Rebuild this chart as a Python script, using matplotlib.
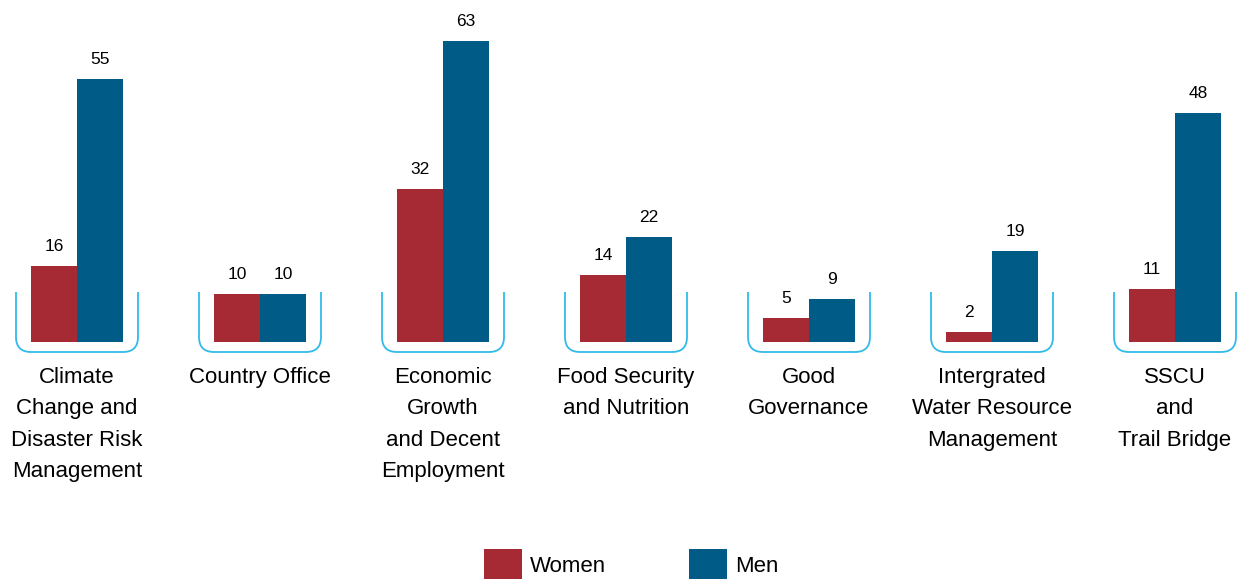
import numpy as np
import matplotlib.pyplot as plt
from matplotlib.path import Path
from matplotlib.patches import PathPatch, Rectangle

plt.rcParams['font.family'] = ['Liberation Sans', 'DejaVu Sans']

categories = ["Climate\nChange and\nDisaster Risk\nManagement",
              "Country Office",
              "Economic\nGrowth\nand Decent\nEmployment",
              "Food Security\nand Nutrition",
              "Good\nGovernance",
              "Intergrated\nWater Resource\nManagement",
              "SSCU\nand\nTrail Bridge"]
women = [16, 10, 32, 14, 5, 2, 11]
men = [55, 10, 63, 22, 9, 19, 48]

c_women = '#a52a33'
c_men = '#005b86'
c_bracket = '#30bbea'

W, H = 1242, 579
fig = plt.figure(figsize=(W / 100, H / 100), dpi=100)
ax = fig.add_axes([0, 0, 1, 1])

px_x = 183.0     # pixels per group
px_y = 4.778     # pixels per unit value
x0 = 77.0        # pixel of first group centre
base = 342.0     # pixel row of the baseline (from top)
ax.set_xlim(-x0 / px_x, (W - x0) / px_x)
ax.set_ylim(-(H - base) / px_y, base / px_y)
ax.axis('off')

x = np.arange(len(categories))
bw = 46 / px_x
ax.bar(x - bw / 2, women, bw, color=c_women, linewidth=0)
ax.bar(x + bw / 2, men, bw, color=c_men, linewidth=0)

for xi, w, m in zip(x, women, men):
    ax.text(xi - bw / 2, w + 12 / px_y, str(w), ha='center', va='bottom', fontsize=12.5)
    ax.text(xi + bw / 2, m + 12 / px_y, str(m), ha='center', va='bottom', fontsize=12.5)

# cup-shaped brackets under each group
half = 61 / px_x
top = 50 / px_y
bot = -10 / px_y
rx, ry = 15 / px_x, 15 / px_y
for xi in x:
    l, r = xi - half, xi + half
    verts = [(l, top), (l, bot + ry), (l, bot), (l + rx, bot),
             (r - rx, bot), (r, bot), (r, bot + ry), (r, top)]
    codes = [Path.MOVETO, Path.LINETO, Path.CURVE3, Path.CURVE3,
             Path.LINETO, Path.CURVE3, Path.CURVE3, Path.LINETO]
    ax.add_patch(PathPatch(Path(verts, codes), fill=False, edgecolor=c_bracket, linewidth=1.3))

for xi, lab in zip(x, categories):
    ax.text(xi, -25 / px_y, lab, ha='center', va='top', fontsize=16, linespacing=1.65)

# legend
for lx, col, lab in [(484, c_women, 'Women'), (689, c_men, 'Men')]:
    fig.patches.append(Rectangle((lx / W, 0), 38 / W, 30 / H, transform=fig.transFigure,
                                 color=col, linewidth=0))
    fig.text((lx + 46) / W, 13 / H, lab, ha='left', va='center', fontsize=16)

fig.savefig('out.png', dpi=100)
